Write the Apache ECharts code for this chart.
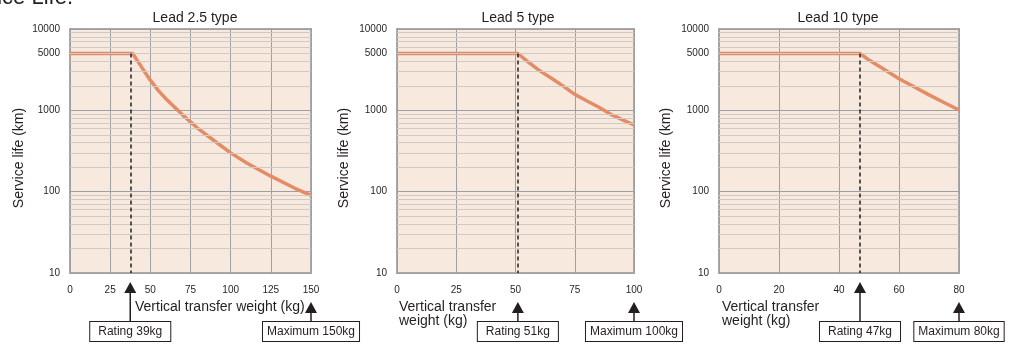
<!DOCTYPE html>
<html>
<head>
<meta charset="utf-8">
<script src="https://cdn.jsdelivr.net/npm/echarts@6/dist/echarts.min.js"></script>
<style>
  html, body { margin: 0; padding: 0; background: #fff; }
  #chart { width: 1012px; height: 346px; }
</style>
</head>
<body>
<div id="chart"></div>
<script>
// chart data
var titles = ['Lead 2.5 type', 'Lead 5 type', 'Lead 10 type']

var weights1 = [0, 39, 45, 50, 55, 60, 70, 75, 80, 90, 100, 110, 125, 140, 150]
var life1 = [5000, 5000, 3300, 2350, 1750, 1370, 880, 720, 590, 420, 300, 225, 155, 110, 90]

var weights2 = [0, 51, 55, 60, 65, 70, 75, 80, 85, 90, 95, 100]
var life2 = [5000, 5000, 4000, 3100, 2500, 2000, 1570, 1310, 1100, 900, 770, 660]

var weights3 = [0, 47, 50, 55, 60, 65, 70, 75, 80]
var life3 = [5000, 5000, 4150, 3200, 2450, 1950, 1550, 1250, 1010]

var yTickLabels = [10, 100, 1000, 5000, 10000]
var minorLines = [20, 30, 40, 50, 60, 70, 80, 90, 200, 300, 400, 500, 600, 700, 800, 900,
  2000, 3000, 4000, 5000, 6000, 7000, 8000, 9000]

var xMax = [150, 100, 80]
var xStep = [25, 25, 20]
var ratingAt = [37.5, 51, 47]
var ratingText = ['Rating 39kg', 'Rating 51kg', 'Rating 47kg']
var maxText = ['Maximum 150kg', 'Maximum 100kg', 'Maximum 80kg']

// layout / style
var FONT = '"Liberation Sans", Arial, sans-serif'
var TXT = '#231f20'
var CURVE = '#e38c66'
var gridLefts = [70, 397, 719]
var gridWidths = [241, 237, 240]
var titleCenters = [190, 513, 833]
var yNameX = [19, 344, 666]
var xNameLeft = [135, 399, 722]
var xNameText = ['Vertical transfer weight (kg)', 'Vertical transfer\nweight (kg)', 'Vertical transfer\nweight (kg)']
var ratingTipY = [282, 302, 282]

var curves = [
  weights1.map(function (w, k) { return [w, life1[k]] }),
  weights2.map(function (w, k) { return [w, life2[k]] }),
  weights3.map(function (w, k) { return [w, life3[k]] })
]

var grids = [], xAxes = [], yAxes = [], series = [], titleList = []

for (var i = 0; i < 3; i++) {
  grids.push({
    left: gridLefts[i], top: 29, width: gridWidths[i], height: 244,
    show: true, backgroundColor: '#f8e9df', borderColor: '#a7a9ac', borderWidth: 2
  })
  xAxes.push({
    type: 'value', gridIndex: i, min: 0, max: xMax[i], interval: xStep[i],
    axisLine: { show: false }, axisTick: { show: false },
    axisLabel: { fontSize: 10, color: TXT, margin: 12, fontFamily: FONT },
    splitLine: { show: true, lineStyle: { color: '#9d9fa2', width: 1 } }
  })
  yAxes.push({
    type: 'log', logBase: 10, gridIndex: i, min: 10, max: 10000,
    axisLine: { show: false }, axisTick: { show: false },
    axisLabel: {
      fontSize: 10, color: TXT, margin: 10, fontFamily: FONT, customValues: yTickLabels,
      formatter: function (v) { return String(Math.round(v)) }
    },
    splitLine: { show: true, lineStyle: { color: '#9d9fa2', width: 1 } }
  })
  // thin log grid lines
  series.push({
    type: 'line', xAxisIndex: i, yAxisIndex: i, data: [], z: 1, silent: true,
    markLine: {
      silent: true, symbol: 'none', animation: false,
      label: { show: false },
      lineStyle: { color: '#cfcac6', width: 1, type: 'solid' },
      data: minorLines.map(function (v) { return { yAxis: v } })
    }
  })
  series.push({
    type: 'line', xAxisIndex: i, yAxisIndex: i, data: curves[i], z: 3,
    showSymbol: false, animation: false,
    lineStyle: { color: CURVE, width: 3.5 },
    markLine: {
      silent: true, symbol: 'none', animation: false,
      label: { show: false },
      lineStyle: { color: '#231f20', width: 1.5, type: [4, 3] },
      data: [[{ coord: [ratingAt[i], 5000] }, { coord: [ratingAt[i], 10] }]]
    }
  })
  titleList.push({
    text: titles[i], left: titleCenters[i], top: 6, textAlign: 'center',
    textStyle: { fontSize: 14, fontWeight: 'normal', color: TXT, fontFamily: FONT }
  })
}

var chart = echarts.init(document.getElementById('chart'))
chart.setOption({
  animation: false,
  title: titleList,
  grid: grids,
  xAxis: xAxes,
  yAxis: yAxes,
  series: series
})

// arrow + boxed label under the x axis
function arrowBox(x, tipY, boxY, text, padX) {
  return [
    { type: 'polygon', shape: { points: [[x, tipY], [x - 6, tipY + 11], [x + 6, tipY + 11]] }, style: { fill: '#231f20' } },
    { type: 'line', shape: { x1: x, y1: tipY + 10, x2: x, y2: boxY }, style: { stroke: '#231f20', lineWidth: 1.5 } },
    {
      type: 'text', x: x, y: boxY,
      style: {
        text: text, font: '12px ' + FONT, fill: TXT, align: 'center', verticalAlign: 'top',
        backgroundColor: '#fff', borderColor: '#231f20', borderWidth: 1, padding: [4, padX, 3, padX]
      }
    }
  ]
}

var graphics = [
  {
    type: 'text', x: 73, y: 9,
    style: { text: 'Service Life.', font: '22px ' + FONT, fill: TXT, align: 'right', verticalAlign: 'bottom' }
  }
]
for (var j = 0; j < 3; j++) {
  var rx = chart.convertToPixel({ xAxisIndex: j }, ratingAt[j])
  var mx = chart.convertToPixel({ xAxisIndex: j }, xMax[j])
  graphics = graphics.concat(arrowBox(rx, ratingTipY[j], 322, ratingText[j], 8))
  graphics = graphics.concat(arrowBox(mx, 302, 322, maxText[j], 4))
  graphics.push({
    type: 'text', x: xNameLeft[j], y: 300,
    style: { text: xNameText[j], font: '14px ' + FONT, fill: TXT, align: 'left', verticalAlign: 'top', lineHeight: 14 }
  })
  graphics.push({
    type: 'text', x: yNameX[j], y: 158, rotation: Math.PI / 2,
    style: { text: 'Service life (km)', font: '14px ' + FONT, fill: TXT, align: 'center', verticalAlign: 'middle' }
  })
}
chart.setOption({ graphic: graphics })
</script>
</body>
</html>
